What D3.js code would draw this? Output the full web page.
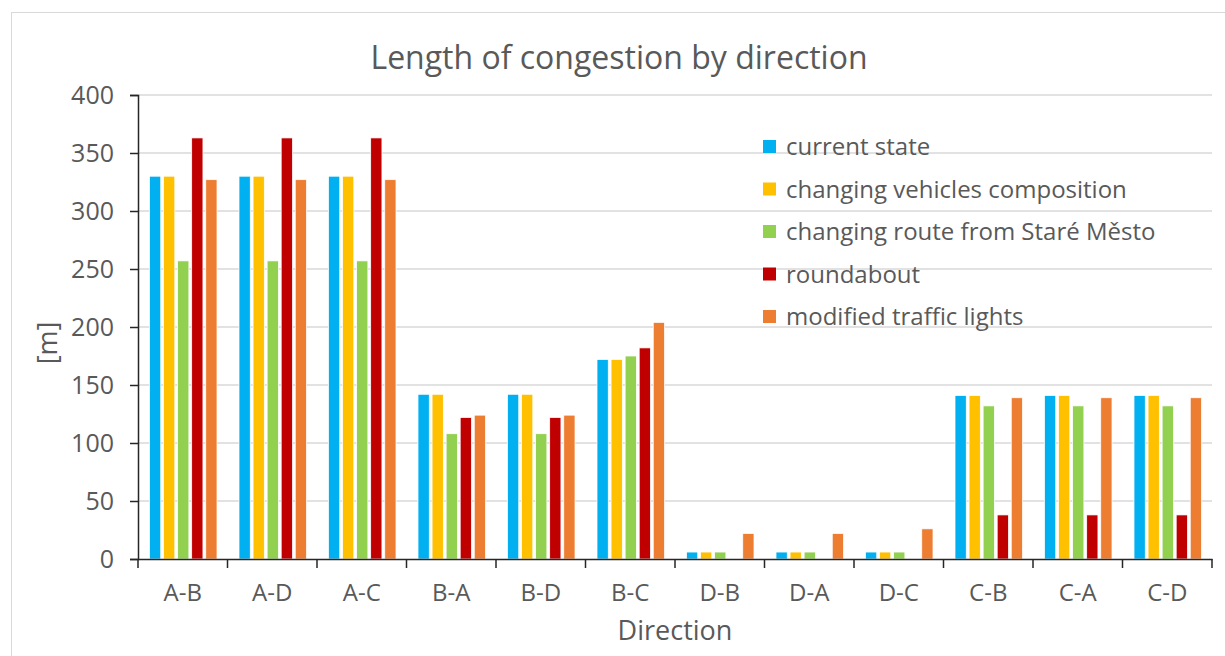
<!DOCTYPE html>
<html>
<head>
<meta charset="utf-8">
<script src="https://cdn.jsdelivr.net/npm/d3@7"></script>
<style>
  body { margin: 0; background: #fff; }
  text { font-family: "Open Sans", "Noto Sans", sans-serif; fill: #595959; }
</style>
</head>
<body>
<script>
// chart values
const directions = ["A-B", "A-D", "A-C", "B-A", "B-D", "B-C", "D-B", "D-A", "D-C", "C-B", "C-A", "C-D"];
const seriesNames = ["current state", "changing vehicles composition", "changing route from Staré Město", "roundabout", "modified traffic lights"];
const currentState = [330, 330, 330, 142, 142, 172, 6, 6, 6, 141, 141, 141];
const vehiclesComposition = [330, 330, 330, 142, 142, 172, 6, 6, 6, 141, 141, 141];
const routeStareMesto = [257, 257, 257, 108, 108, 175, 6, 6, 6, 132, 132, 132];
const roundabout = [363, 363, 363, 122, 122, 182, 0, 0, 0, 38, 38, 38];
const trafficLights = [327, 327, 327, 124, 124, 204, 22, 22, 26, 139, 139, 139];
const yTicks = [0, 50, 100, 150, 200, 250, 300, 350, 400];

const colors = ["#00B0F0", "#FFC000", "#92D050", "#C00000", "#ED7D31"];
const allSeries = [currentState, vehiclesComposition, routeStareMesto, roundabout, trafficLights];

const width = 1225, height = 656;
const svg = d3.select("body").append("svg")
  .attr("width", width)
  .attr("height", height);

// chart frame
svg.append("rect")
  .attr("x", 11.5).attr("y", 12.5)
  .attr("width", width).attr("height", height)
  .attr("fill", "none")
  .attr("stroke", "#d9d9d9");

const x = d3.scaleBand()
  .domain(directions)
  .range([138, 1212]);

const x1 = d3.scaleBand()
  .domain(d3.range(seriesNames.length))
  .range([11.5, x.bandwidth() - 10.5])
  .paddingInner(0.2);

const y = d3.scaleLinear()
  .domain([0, 400])
  .range([559, 95]);

// gridlines
svg.append("g")
  .selectAll("line")
  .data(yTicks.slice(1))
  .join("line")
  .attr("x1", x.range()[0]).attr("x2", x.range()[1])
  .attr("y1", d => y(d)).attr("y2", d => y(d))
  .attr("stroke", "#d9d9d9")
  .attr("stroke-width", 1.5);

// bars
const groups = svg.append("g")
  .selectAll("g")
  .data(directions)
  .join("g")
  .attr("transform", d => `translate(${x(d)},0)`);

groups.selectAll("rect")
  .data((d, i) => allSeries.map((s, k) => ({ k, v: s[i] })).filter(e => e.v > 0))
  .join("rect")
  .attr("x", d => x1(d.k))
  .attr("y", d => y(d.v))
  .attr("width", x1.bandwidth())
  .attr("height", d => y(0) - y(d.v))
  .attr("fill", d => colors[d.k])
  .attr("stroke", "#fff")
  .attr("stroke-width", 0.75);

// axes
const yAxis = d3.axisLeft(y).tickValues(yTicks).tickSize(8).tickPadding(16);
const gy = svg.append("g")
  .attr("transform", `translate(${x.range()[0]},0)`)
  .call(yAxis);
gy.select(".domain").attr("stroke", "#262626").attr("stroke-width", 1.5);
gy.selectAll(".tick line").attr("stroke", "#262626").attr("stroke-width", 1.5);
gy.selectAll(".tick text")
  .attr("font-size", 25)
  .attr("fill", "#595959")
  .style("font-family", "'Open Sans', sans-serif");

const xAxis = d3.axisBottom(x).tickSize(0).tickPadding(25);
const gx = svg.append("g")
  .attr("transform", `translate(0,${y(0)})`)
  .call(xAxis);
gx.select(".domain").attr("stroke", "#262626").attr("stroke-width", 1.5);
gx.selectAll(".tick text")
  .attr("font-size", 24)
  .attr("fill", "#595959")
  .style("font-family", "'Open Sans', sans-serif");

// category separators on the x axis
svg.append("g")
  .selectAll("line")
  .data(directions.map(d => x(d)).concat([x.range()[1]]))
  .join("line")
  .attr("x1", d => d).attr("x2", d => d)
  .attr("y1", y(0)).attr("y2", y(0) + 9)
  .attr("stroke", "#262626")
  .attr("stroke-width", 1.5);

// titles
svg.append("text")
  .attr("x", 619).attr("y", 69)
  .attr("text-anchor", "middle")
  .attr("font-size", 32)
  .text("Length of congestion by direction");

svg.append("text")
  .attr("x", (x.range()[0] + x.range()[1]) / 2).attr("y", 640)
  .attr("text-anchor", "middle")
  .attr("font-size", 27)
  .text("Direction");

svg.append("text")
  .attr("transform", `translate(57,343) rotate(-90)`)
  .attr("text-anchor", "middle")
  .attr("font-size", 27)
  .text("[m]");

// legend
const legend = svg.append("g")
  .selectAll("g")
  .data(seriesNames)
  .join("g")
  .attr("transform", (d, i) => `translate(763,${147 + i * 42.5})`);

legend.append("rect")
  .attr("x", 0).attr("y", -7)
  .attr("width", 13).attr("height", 13)
  .attr("fill", (d, i) => colors[i]);

legend.append("text")
  .attr("x", 23).attr("y", 0)
  .attr("dy", "0.35em")
  .attr("font-size", 24)
  .text(d => d);
</script>
</body>
</html>
